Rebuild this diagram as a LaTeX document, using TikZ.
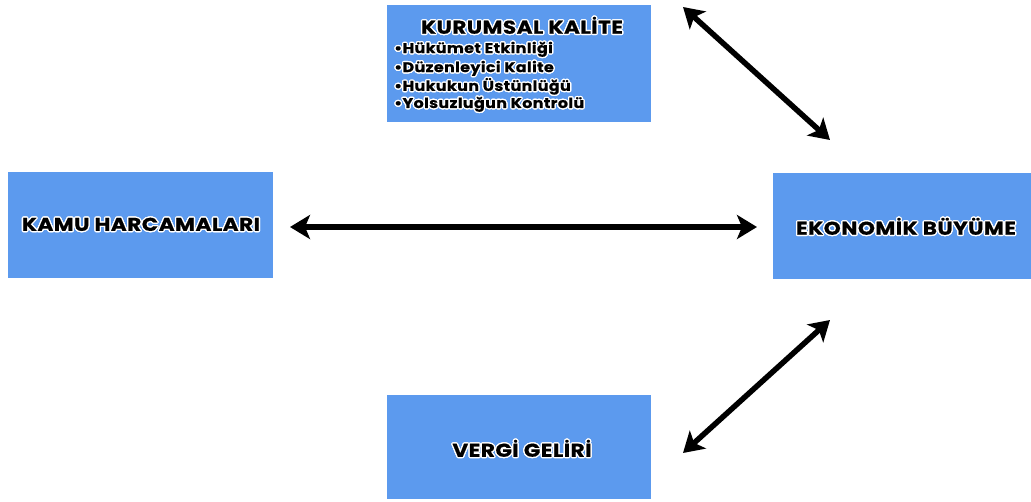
\documentclass[tikz,border=0pt]{standalone}
\usepackage{fontspec}
\setmainfont{Poppins}
\newfontfamily\widefont{Poppins}[FakeStretch=1.17, LetterSpace=2.5, FakeBold=0.6]
\newfontfamily\itemfont{Poppins}[FakeStretch=1.14, LetterSpace=2.5, FakeBold=0.5]
\usepackage[copies]{contour}
\contourlength{1.3pt}
\contournumber{16}
\usetikzlibrary{arrows.meta}
\definecolor{boxblue}{HTML}{5C9AEE}
\tikzset{
  box/.style={fill=boxblue, draw=none, inner sep=0pt, anchor=north west},
  title/.style={font=\widefont\bfseries\fontsize{18.5}{21}\selectfont, text=black, inner sep=0pt},
  item/.style={font=\itemfont\bfseries\fontsize{14}{16}\selectfont, text=black, inner sep=0pt, anchor=west},
  biarrow/.style={line width=5.5pt, {Stealth[length=20pt,width=24pt,inset=5pt]}-{Stealth[length=20pt,width=24pt,inset=5pt]}}
}
\newcommand{\halo}[1]{\contour{white}{#1}}
\begin{document}
\begin{tikzpicture}[x=1pt,y=-1pt]
\useasboundingbox (0,0) rectangle (1031,501);
% boxes
\node[box, minimum width=264pt, minimum height=117pt] (kk) at (387,5) {};
\node[box, minimum width=265pt, minimum height=106pt] (kh) at (8,172) {};
\node[box, minimum width=258pt, minimum height=106pt] (eb) at (773,173) {};
\node[box, minimum width=264pt, minimum height=104pt] (vg) at (387,395) {};
% texts
\node[title] (kkt) at (522,26) {\halo{KURUMSAL KALİTE}};
\node[item] (i1) at (394,50) {\halo{•Hükümet Etkinliği}};
\node[item] (i2) at (394,69) {\halo{•Düzenleyici Kalite}};
\node[item] (i3) at (394,87) {\halo{•Hukukun Üstünlüğü}};
\node[item] (i4) at (394,105) {\halo{•Yolsuzluğun Kontrolü}};
\node[title] (kht) at (141,225) {\halo{KAMU HARCAMALARI}};
\node[title] (ebt) at (906,227) {\halo{EKONOMİK BÜYÜME}};
\node[title] (vgt) at (522,449) {\halo{VERGİ GELİRİ}};
% arrow endpoints
\coordinate (h1) at (290,227);
\coordinate (h2) at (757,227);
\coordinate (d1) at (683,7);
\coordinate (d2) at (830,140);
\coordinate (d3) at (830,320);
\coordinate (d4) at (683,453);
\draw[biarrow] (h1) -- (h2);
\draw[biarrow] (d1) -- (d2);
\draw[biarrow] (d3) -- (d4);
\end{tikzpicture}
\end{document}
